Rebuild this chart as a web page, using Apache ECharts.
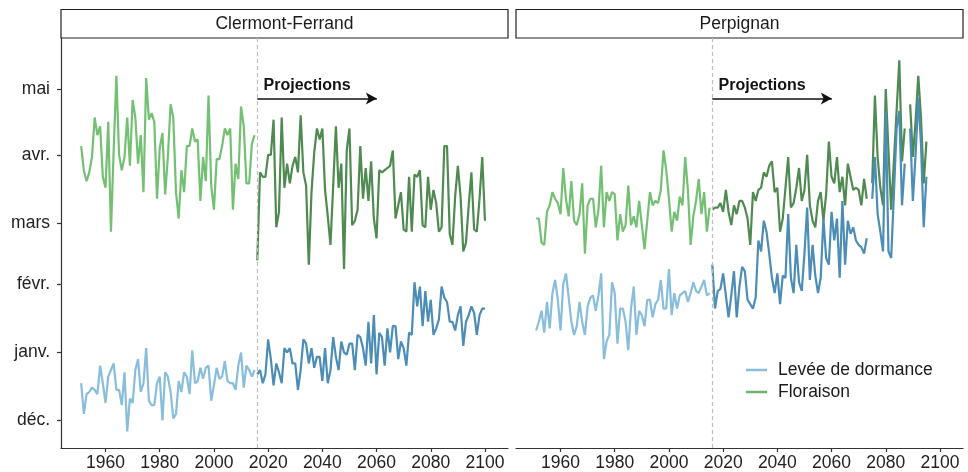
<!DOCTYPE html>
<html>
<head>
<meta charset="utf-8">
<script src="https://cdn.jsdelivr.net/npm/echarts@6/dist/echarts.min.js"></script>
<style>
html,body{margin:0;padding:0;background:#fff;}
#chart{width:968px;height:472px;}
</style>
</head>
<body>
<div id="chart"></div>
<script>
// ---- Data (day of year relative to 1 January; negative = December) ----
const panels = ['Clermont-Ferrand', 'Perpignan'];
const xTicks = [1960, 1980, 2000, 2020, 2040, 2060, 2080, 2100];
const yTickValues = [-31, 0, 31, 59, 90, 120];
const yTickLabels = ['déc.', 'janv.', 'févr.', 'mars', 'avr.', 'mai'];
const legendNames = ['Levée de dormance', 'Floraison'];
const projectionStart = 2016;
const histStartYear = 1951;
const projStartYear = 2016;

// Clermont-Ferrand
const cfHistFlor = [94,83,78,82,89,107,99,103,80,75, 105,55,92,126,90,83,89,107,85,115, 107,86,99,73,125,106,109,105,70,93, 100,72,89,113,107,73,61,83,73,94, 94,102,96,97,69,89,78,117,76,65, 88,88,94,102,99,102,65,86,79,112, 103,77,77,95,99];
const cfProjFlor = [42,82,80,80,90,90,106,57,64,107, 75,86,77,85,89,82,108,82,76,40, 73,91,102,97,102,74,62,49,76,103, 75,86,38,92,102,58,60,65,94,70, 84,69,87,61,52,83,82,83,84,85, 92,61,67,73,56,55,80,55,81,80, 83,58,57,80,65,74,68,55,57,94, 94,54,49,71,85,71,46,50,67,82, 56,55,70,89,60];
const cfHistDorm = [-14,-28,-19,-18,-16,-17,-19,-6,-14,-23, -11,-8,-5,-17,-17,-24,-9,-36,-21,-23, -8,-3,-18,-14,2,-22,-24,-24,-14,-11, -31,-9,-11,-18,-30,-28,-13,-18,-9,-11, -19,1,-14,-13,-7,-12,-7,-6,-22,-15, -7,-12,-11,-4,-13,-14,-14,-17,-6,0, -16,-6,-8,-11,-8];
const cfProjDorm = [-10,-8,-14,-10,6,-3,-15,-5,-9,-14, 2,0,2,-5,-5,-17,-8,6,4,-5, 2,-7,-2,-2,-13,2,-14,-8,7,-2, -8,5,0,-1,4,4,-8,8,7,2, -6,14,-5,17,-10,9,7,-6,11,0, 12,12,-3,5,2,-6,9,8,32,21, 30,12,28,14,24,8,11,15,30,25, 23,14,14,10,17,21,3,14,17,21, 18,8,17,20,20];

// Perpignan
const pHistFlor = [61,61,50,49,64,67,73,70,68,63, 84,70,62,78,60,58,63,77,45,67, 70,70,57,65,85,57,73,69,73,72, 51,63,55,58,76,58,62,57,69,58, 47,60,73,67,69,68,74,92,83,70, 55,64,60,71,67,89,74,49,62,69, 79,63,73,55,66];
const pProjFlor = [65,66,66,68,64,74,64,58,67,63, 69,69,66,61,49,73,69,74,75,82, 80,85,87,73,75,55,61,75,89,66, 68,75,84,69,74,90,67,60,57,69, 73,60,72,96,80,77,89,73,80,67, 86,80,74,75,74,67,79,70,null,77, 117,89,75,67,120,92,65,87,110,133, 87,102,null,113,89,105,126,107,77,96];
const pHistDorm = [10,14,19,9,23,11,27,33,24,10, 31,36,25,14,8,12,23,14,8,21, 25,26,19,26,36,-3,5,8,32,27, 4,20,20,14,1,20,30,8,19,17, 12,24,24,16,22,24,33,20,20,38, 17,27,20,26,27,28,23,27,32,28, 27,30,33,26,27];
const pProjDorm = [40,20,28,29,36,26,16,26,37,16, 30,39,37,24,22,20,25,51,46,60, 55,45,34,27,36,22,35,34,63,34, 27,49,32,28,45,66,33,49,35,27, 34,61,43,40,64,51,61,34,69,40, 60,54,57,51,49,48,45,52,null,70, 89,63,55,46,110,46,43,72,102,110, 67,86,null,102,69,90,116,95,57,80];

// ---- Styling ----
const FONT = "'Liberation Sans', Arial, Helvetica, sans-serif";
const C = {
  dormHist: '#88bddc',
  dormProj: '#4b8db6',
  florHist: '#74c073',
  florProj: '#4f8a50',
  legendFlor: '#6cb36a'
};

function pairs(startYear, vals) {
  return vals.map((v, i) => [startYear + i, v === null ? '-' : v]);
}

function lineSeries(name, idx, data, color, z) {
  return {
    name: name, type: 'line', xAxisIndex: idx, yAxisIndex: idx,
    data: data, showSymbol: false, symbol: 'none', connectNulls: false,
    lineStyle: { color: color, width: 2.2 }, itemStyle: { color: color },
    z: z, animation: false
  };
}

const gridDefs = [
  { left: 61, top: 38, width: 447, bottom: 23 },
  { left: 516, top: 38, width: 447, bottom: 23 }
];

function xAxisDef(idx) {
  return {
    type: 'value', gridIndex: idx, min: 1943.57, max: 2108.5,
    axisLine: { show: true, onZero: false, lineStyle: { color: '#333', width: 1.2 } },
    axisTick: { show: true, customValues: xTicks, length: 4, lineStyle: { color: '#333', width: 1.2 } },
    axisLabel: { customValues: xTicks, margin: 6, fontSize: 17.5, color: '#222', fontFamily: FONT,
      formatter: v => String(Math.round(v)) },
    splitLine: { show: false }
  };
}
function yAxisDef(idx) {
  const shown = idx === 0;
  return {
    type: 'value', gridIndex: idx, min: -43.5, max: 143.2,
    axisLine: { show: shown, onZero: false, lineStyle: { color: '#333', width: 1.2 } },
    axisTick: { show: shown, customValues: yTickValues, length: 4, lineStyle: { color: '#333', width: 1.2 } },
    axisLabel: {
      show: shown, customValues: yTickValues, margin: 11, fontSize: 17.5, color: '#222', fontFamily: FONT,
      formatter: v => { const k = yTickValues.indexOf(Math.round(v)); return k >= 0 ? yTickLabels[k] : ''; }
    },
    splitLine: { show: false }
  };
}

function annotations() {
  return {
    markLine: {
      silent: true, animation: false, label: { show: false },
      symbol: ['none', 'none'],
      data: [
        { xAxis: projectionStart, lineStyle: { type: [4, 3], color: '#bdbdbd', width: 1.2 } },
        [
          { coord: [projectionStart, 115.6], symbol: 'none', lineStyle: { type: 'solid', color: '#111', width: 1.5 } },
          { coord: [2060.1, 115.6], symbol: 'arrow', symbolSize: [9, 11] }
        ]
      ]
    },
    markPoint: {
      silent: true, animation: false,
      data: [{
        coord: [2018.3, 121.3], symbol: 'circle', symbolSize: 0,
        label: { show: true, position: 'right', distance: 0, formatter: 'Projections',
          fontWeight: 'bold', fontSize: 16, color: '#111', fontFamily: FONT }
      }]
    }
  };
}

const sets = [
  [cfHistDorm, cfProjDorm, cfHistFlor, cfProjFlor],
  [pHistDorm, pProjDorm, pHistFlor, pProjFlor]
];

const series = [];
sets.forEach((s, idx) => {
  const florHist = lineSeries(legendNames[1], idx, pairs(histStartYear, s[2]), C.florHist, 2);
  const florProj = lineSeries('Floraison (projection)', idx, pairs(projStartYear, s[3]), C.florProj, 2);
  const dormHist = lineSeries(legendNames[0], idx, pairs(histStartYear, s[0]), C.dormHist, 3);
  const dormProj = lineSeries('Levée (projection)', idx, pairs(projStartYear, s[1]), C.dormProj, 3);
  Object.assign(florHist, annotations());
  series.push(florHist, florProj, dormHist, dormProj);
});

const stripGraphics = [];
gridDefs.forEach((g, i) => {
  stripGraphics.push({
    type: 'rect', shape: { x: g.left, y: 9.5, width: g.width, height: 28.5 },
    style: { fill: '#fff', stroke: '#222', lineWidth: 1.2 }, silent: true
  });
  stripGraphics.push({
    type: 'text', x: g.left + g.width / 2, y: 24,
    style: { text: panels[i], fill: '#1a1a1a', font: '17.5px ' + FONT, textAlign: 'center', textVerticalAlign: 'middle' },
    silent: true
  });
});

const chart = echarts.init(document.getElementById('chart'), null, { renderer: 'canvas' });
chart.setOption({
  animation: false,
  backgroundColor: '#ffffff',
  textStyle: { fontFamily: FONT },
  grid: gridDefs,
  xAxis: [xAxisDef(0), xAxisDef(1)],
  yAxis: [yAxisDef(0), yAxisDef(1)],
  legend: {
    data: [
      { name: legendNames[0], itemStyle: { color: C.dormHist } },
      { name: legendNames[1], itemStyle: { color: C.legendFlor } }
    ],
    orient: 'vertical', left: 741, top: 356,
    icon: 'rect', itemWidth: 21, itemHeight: 2.5, itemGap: 4,
    textStyle: { fontSize: 17.5, color: '#1a1a1a', fontFamily: FONT, padding: [0, 0, 0, 6] },
    selectedMode: false
  },
  graphic: stripGraphics,
  series: series
});
</script>
</body>
</html>
